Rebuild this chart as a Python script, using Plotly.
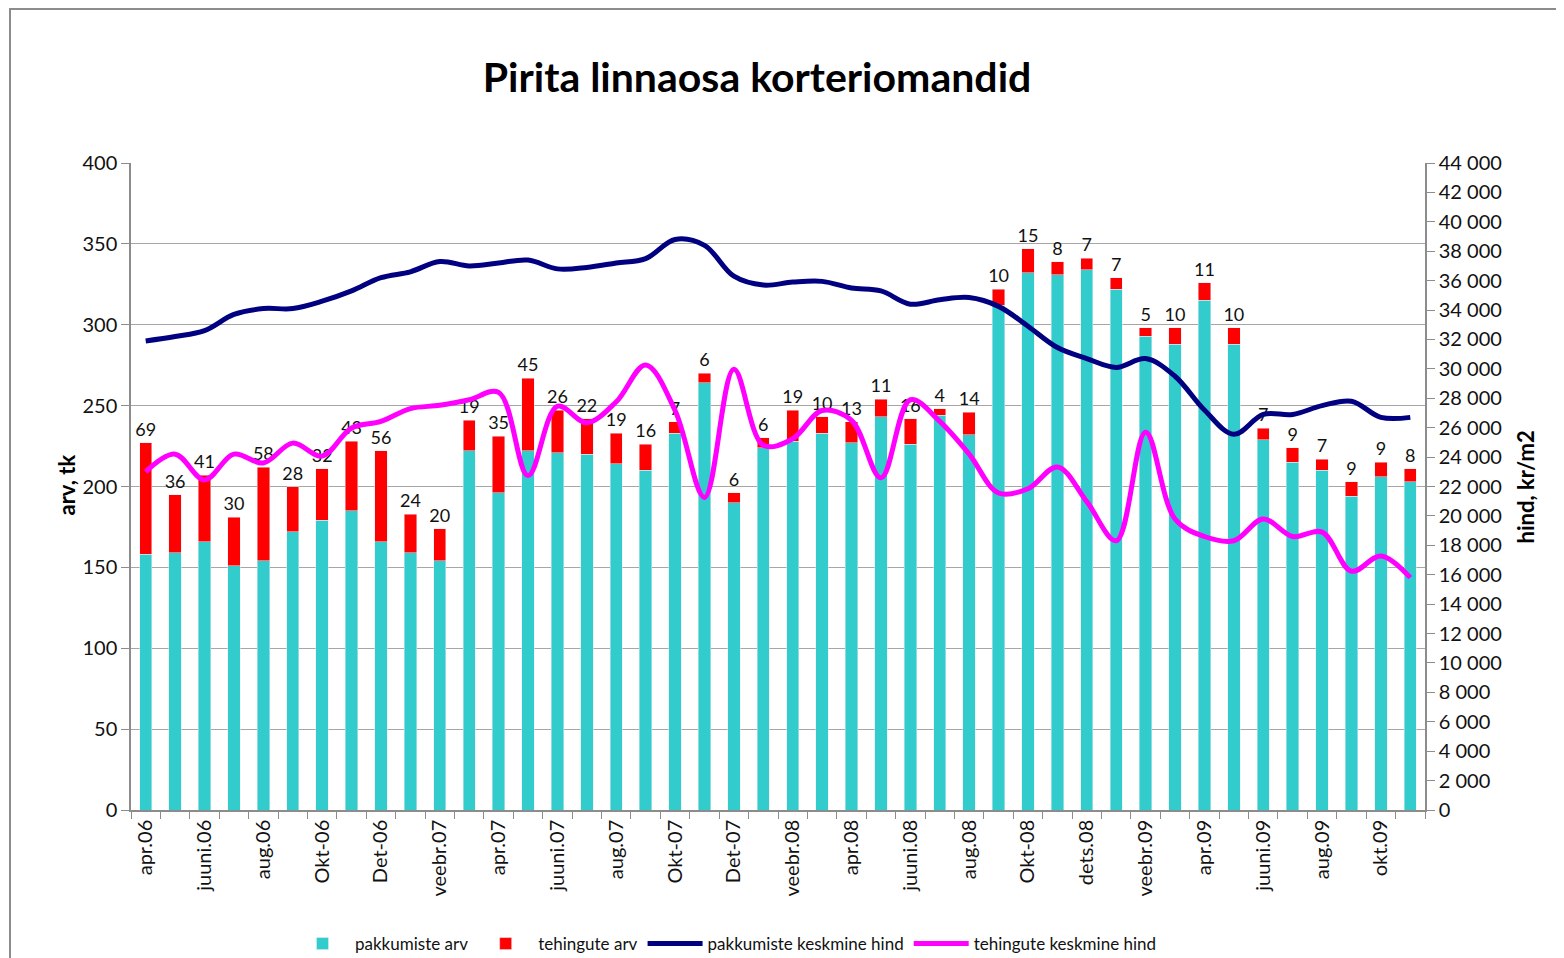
import plotly.graph_objects as go

months = ["apr.06", "mai.06", "juuni.06", "juuli.06", "aug.06", "sept.06", "Okt-06", "nov.06",
          "Det-06", "jaan.07", "veebr.07", "märts.07", "apr.07", "mai.07", "juuni.07", "juuli.07",
          "aug.07", "sept.07", "Okt-07", "nov.07", "Det-07", "jaan.08", "veebr.08", "märts.08",
          "apr.08", "mai.08", "juuni.08", "juuli.08", "aug.08", "sept.08", "Okt-08", "nov.08",
          "dets.08", "jaan.09", "veebr.09", "märts.09", "apr.09", "mai.09", "juuni.09", "juuli.09",
          "aug.09", "sept.09", "okt.09", "nov.09"]

offers = [158, 159, 166, 151, 154, 172, 179, 185, 166, 159, 154, 222, 196, 222, 221, 220,
          214, 210, 233, 264, 190, 224, 228, 233, 227, 243, 226, 244, 232, 312, 332, 331,
          334, 322, 293, 288, 315, 288, 229, 215, 210, 194, 206, 203]

deals = [69, 36, 41, 30, 58, 28, 32, 43, 56, 24, 20, 19, 35, 45, 26, 22,
         19, 16, 7, 6, 6, 6, 19, 10, 13, 11, 16, 4, 14, 10, 15, 8,
         7, 7, 5, 10, 11, 10, 7, 9, 7, 9, 9, 8]

offer_price = [31900, 32200, 32600, 33700, 34100, 34100, 34600, 35300, 36200, 36600,
               37300, 37000, 37200, 37400, 36800, 36900, 37200, 37500, 38800, 38400,
               36300, 35700, 35900, 35950, 35500, 35300, 34400, 34700, 34850, 34250,
               32900, 31450, 30700, 30100, 30700, 29500, 27200, 25550, 26900, 26900,
               27500, 27800, 26700, 26700]

deal_price = [23000, 24200, 22450, 24200, 23600, 24950, 24070, 25980, 26430, 27300,
              27520, 27900, 28400, 22740, 27460, 26340, 27760, 30270, 27170, 21260,
              29970, 24800, 25250, 27170, 26500, 22590, 27900, 26430, 24200, 21560,
              21850, 23330, 20970, 18310, 25690, 19790, 18600, 18310, 19790, 18600,
              18900, 16240, 17280, 15800]

tick_labels = months[::2]

x = list(range(len(months)))
FONT = "Lato"

# page body has an 8px margin: work in target-pixel coordinates minus offset
O = 8
W, H = 1564 - O, 958 - O
L, R, T, B = 131 - O, 1425 - O, 163 - O, 810 - O
pw, ph = R - L, B - T

fig = go.Figure()
fig.add_trace(go.Bar(x=x, y=offers, name="pakkumiste arv", marker_color="#33CCCC",
                     hovertext=months))
fig.add_trace(go.Bar(x=x, y=deals, name="tehingute arv", marker_color="#FF0000",
                     text=[str(v) for v in deals], textposition="outside", constraintext="none",
                     textfont=dict(size=18, color="#111111", family=FONT),
                     cliponaxis=False, hovertext=months))
fig.add_trace(go.Scatter(x=x, y=offer_price, name="pakkumiste keskmine hind", mode="lines",
                         line=dict(color="#000080", width=5, shape="spline", smoothing=1),
                         yaxis="y2"))
fig.add_trace(go.Scatter(x=x, y=deal_price, name="tehingute keskmine hind", mode="lines",
                         line=dict(color="#FF00FF", width=5, shape="spline", smoothing=1),
                         yaxis="y2"))

fig.update_layout(
    width=W, height=H,
    margin=dict(l=L, r=W - R, t=T, b=H - B),
    paper_bgcolor="white", plot_bgcolor="white",
    barmode="stack", bargap=0.58,
    separators=", ",
    font=dict(family=FONT, size=20, color="#111111"),
    title=dict(text="<b>Pirita linnaosa korteriomandid</b>", x=(757 - O) / W, xanchor="center",
               y=1 - (78 - O) / H, yanchor="middle",
               font=dict(family=FONT, size=41, color="#000000")),
    xaxis=dict(range=[-0.5, len(months) - 0.5], tickmode="array",
               tickvals=x[::2], ticktext=tick_labels, ticks="", tickangle=-90,
               tickfont=dict(size=20, family=FONT),
               showline=True, linecolor="#8c8c8c", linewidth=1.5, showgrid=False, zeroline=False,
               minor=dict(tickmode="array", tickvals=[i - 0.5 for i in range(len(months) + 1)],
                          ticks="outside", ticklen=7, tickcolor="#8c8c8c", showgrid=False)),
    yaxis=dict(range=[0, 400], dtick=50, ticks="outside", ticklen=8, tickcolor="#8c8c8c",
               showline=True, linecolor="#8c8c8c", linewidth=1.5,
               showgrid=True, gridcolor="#a6a6a6", gridwidth=1, zeroline=False,
               tickfont=dict(size=20, family=FONT)),
    yaxis2=dict(range=[0, 44000], dtick=2000, overlaying="y", side="right", tickformat=",d",
                ticks="outside", ticklen=8, tickcolor="#8c8c8c",
                showline=True, linecolor="#8c8c8c", linewidth=1.5,
                showgrid=False, zeroline=False, tickfont=dict(size=20, family=FONT)),
    legend=dict(orientation="h", x=(726 - O) / W, xanchor="center", xref="container",
                y=1 - (944 - O) / H, yref="container", yanchor="middle",
                font=dict(size=17, family=FONT), itemwidth=55, traceorder="normal",
                bgcolor="rgba(0,0,0,0)"),
    annotations=[
        dict(text="<b>arv, tk</b>", textangle=-90, xref="paper", yref="paper",
             x=(50 - O - L) / pw, y=(B - (485 - O)) / ph, showarrow=False,
             font=dict(size=22, family=FONT, color="#000000")),
        dict(text="<b>hind, kr/m2</b>", textangle=-90, xref="paper", yref="paper",
             x=1 + (1540 - O - R) / pw, y=(B - (487 - O)) / ph, showarrow=False,
             font=dict(size=22, family=FONT, color="#000000")),
    ],
    shapes=[dict(type="rect", xref="paper", yref="paper",
                 x0=(10 - O - L) / pw, x1=(1600 - L) / pw, y0=(B - 990) / ph, y1=(B - 1) / ph,
                 line=dict(color="#8c8c8c", width=2), layer="below")],
    showlegend=True,
)

fig.write_html("out.html")
